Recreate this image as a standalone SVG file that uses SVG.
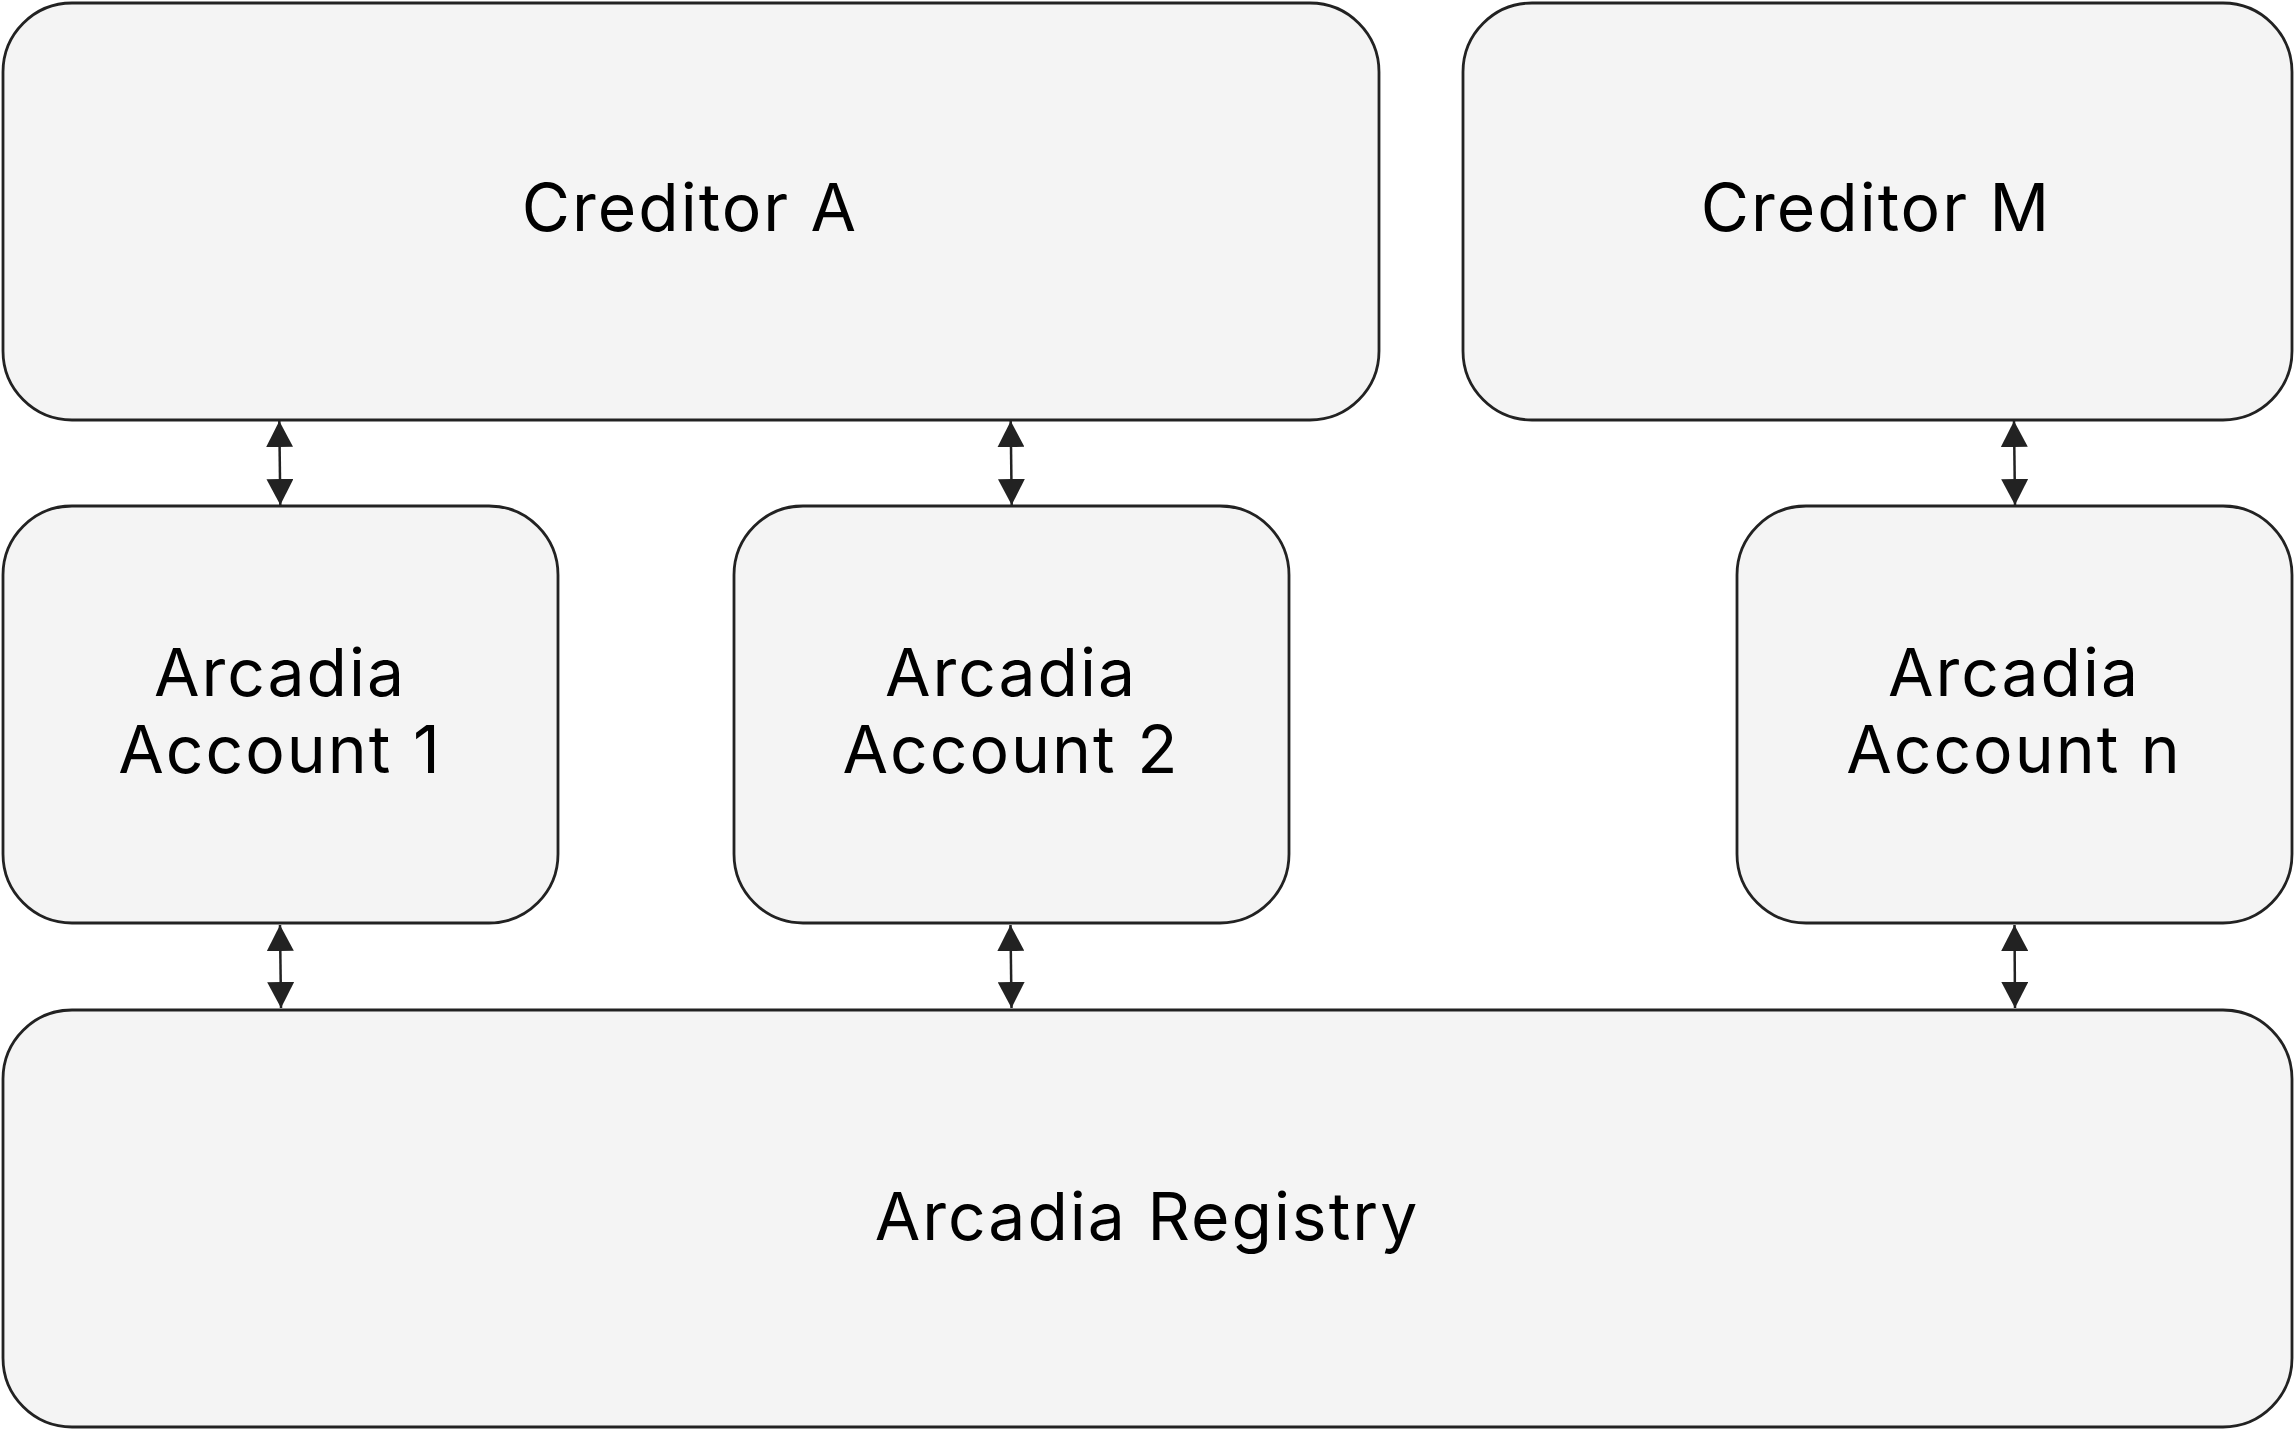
<svg xmlns="http://www.w3.org/2000/svg" width="2296" height="1430" viewBox="0 0 2296 1430">
<defs>
<style>
.box{fill:#f4f4f4;stroke:#222;stroke-width:2.8}
.lbl{font-family:Inter,"Noto Sans","Liberation Sans",sans-serif;font-size:66px;fill:#000;text-anchor:middle;letter-spacing:2px}
.conn{stroke:#222;stroke-width:2.5;fill:none;marker-start:url(#ah);marker-end:url(#ah)}
</style>
<marker id="ah" markerUnits="userSpaceOnUse" viewBox="0 0 26 27" refX="26" refY="13.5" markerWidth="26" markerHeight="27" orient="auto-start-reverse">
<path d="M0,0 L26,13.5 L0,27 Z" fill="#222"/>
</marker>
</defs>
<rect width="2296" height="1430" fill="#fff"/>
<g id="creditor-a">
<rect class="box" x="3" y="3" width="1376" height="417" rx="69"/>
<text class="lbl" x="690" y="231">Creditor A</text>
</g>
<g id="creditor-m">
<rect class="box" x="1463" y="3" width="829" height="417" rx="69"/>
<text class="lbl" x="1876" y="231">Creditor M</text>
</g>
<g id="account-1">
<rect class="box" x="3" y="506" width="555" height="417" rx="69"/>
<text class="lbl" x="280" y="696">Arcadia</text>
<text class="lbl" x="280" y="773">Account 1</text>
</g>
<g id="account-2">
<rect class="box" x="734" y="506" width="555" height="417" rx="69"/>
<text class="lbl" x="1011" y="696">Arcadia</text>
<text class="lbl" x="1011" y="773">Account 2</text>
</g>
<g id="account-n">
<rect class="box" x="1737" y="506" width="555" height="417" rx="69"/>
<text class="lbl" x="2014" y="696">Arcadia</text>
<text class="lbl" x="2014" y="773">Account n</text>
</g>
<g id="registry">
<rect class="box" x="3" y="1010" width="2289" height="417" rx="69"/>
<text class="lbl" x="1147" y="1240">Arcadia Registry</text>
</g>
<g id="connectors">
<line class="conn" x1="279.3" y1="421" x2="280.3" y2="505"/>
<line class="conn" x1="1010.7" y1="421" x2="1011.7" y2="505"/>
<line class="conn" x1="2014" y1="421" x2="2015" y2="505"/>
<line class="conn" x1="280" y1="925" x2="281" y2="1008"/>
<line class="conn" x1="1010.5" y1="925" x2="1011.5" y2="1008"/>
<line class="conn" x1="2014.5" y1="925" x2="2015" y2="1008"/>
</g>
</svg>
